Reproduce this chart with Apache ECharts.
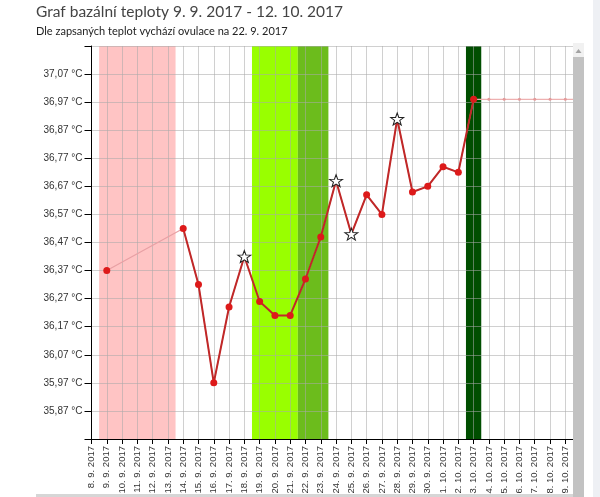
<!DOCTYPE html>
<html>
<head>
<meta charset="utf-8">
<script src="https://cdn.jsdelivr.net/npm/echarts@6/dist/echarts.min.js"></script>
<style>
html,body{margin:0;padding:0;background:#fff;overflow:hidden;}
#chart{width:600px;height:497px;}
</style>
</head>
<body>
<div id="chart"></div>
<script>
const categories = ['8. 9. 2017','9. 9. 2017','10. 9. 2017','11. 9. 2017','12. 9. 2017','13. 9. 2017','14. 9. 2017','15. 9. 2017','16. 9. 2017','17. 9. 2017','18. 9. 2017','19. 9. 2017','20. 9. 2017','21. 9. 2017','22. 9. 2017','23. 9. 2017','24. 9. 2017','25. 9. 2017','26. 9. 2017','27. 9. 2017','28. 9. 2017','29. 9. 2017','30. 9. 2017','1. 10. 2017','2. 10. 2017','3. 10. 2017','4. 10. 2017','5. 10. 2017','6. 10. 2017','7. 10. 2017','8. 10. 2017','9. 10. 2017','10. 10. 2017'];
const temps = [null,36.37,null,null,null,null,36.52,36.32,35.97,36.24,36.42,36.26,36.21,36.21,36.34,36.49,36.69,36.50,36.64,36.57,36.91,36.65,36.67,36.74,36.72,36.98,null,null,null,null,null,null,null];
const projection = [null,null,null,null,null,null,null,null,null,null,null,null,null,null,null,null,null,null,null,null,null,null,null,null,null,36.98,36.98,36.98,36.98,36.98,36.98,36.98,36.98];
const starDates = ['18. 9. 2017','24. 9. 2017','25. 9. 2017','28. 9. 2017'];
const bandFrom = ['9. 9. 2017','19. 9. 2017','22. 9. 2017','3. 10. 2017'];
const bandTo = ['13. 9. 2017','21. 9. 2017','23. 9. 2017','3. 10. 2017'];
const bandColors = ['#ffc4c4','#99ff00','#6cbc1c','#004e00'];
const yTickValues = [35.77,35.87,35.97,36.07,36.17,36.27,36.37,36.47,36.57,36.67,36.77,36.87,36.97,37.07,37.17];
const yLabelValues = [35.87,35.97,36.07,36.17,36.27,36.37,36.47,36.57,36.67,36.77,36.87,36.97,37.07];
const titleText = 'Graf bazální teploty 9. 9. 2017 - 12. 10. 2017';
const subText = 'Dle zapsaných teplot vychází ovulace na 22. 9. 2017';

const STAR = 'path://M0,-10L2.35,-3.24L9.51,-3.09L3.8,1.24L5.88,8.09L0,4L-5.88,8.09L-3.8,1.24L-9.51,-3.09L-2.35,-3.24Z';

const mainData = temps.map((v, i) => {
  if (v === null) return null;
  if (starDates.indexOf(categories[i]) >= 0) {
    return {value: v, symbol: STAR, symbolSize: [13, 12], itemStyle: {color: '#ffffff', borderColor: '#222', borderWidth: 1}};
  }
  return v;
});

const areas = bandFrom.map((f, k) => [
  {xAxis: categories.indexOf(f) - 0.5, itemStyle: {color: bandColors[k], opacity: 1}},
  {xAxis: categories.indexOf(bandTo[k]) + 0.5}
]);

const chart = echarts.init(document.getElementById('chart'), null, {renderer: 'canvas'});
const AXFONT = 'Liberation Sans, Arial, sans-serif';
chart.setOption({
  animation: false,
  backgroundColor: '#ffffff',
  title: {
    text: titleText,
    subtext: subText,
    left: 31, top: -1,
    itemGap: 6,
    textStyle: {fontSize: 15.5, fontWeight: 'normal', color: '#444', fontFamily: 'Lato, sans-serif'},
    subtextStyle: {fontSize: 11, color: '#222', fontFamily: 'Lato, sans-serif'}
  },
  grid: {left: 91.5, top: 46, right: 19.4, bottom: 58, containLabel: false, outerBoundsMode: 'none'},
  xAxis: [{
    type: 'category', data: categories, boundaryGap: false, z: 2,
    axisLine: {lineStyle: {color: '#000', width: 1}},
    axisTick: {length: 5, interval: 0, lineStyle: {color: '#000'}},
    axisLabel: {rotate: 90, interval: 0, fontSize: 9.5, color: '#333', fontFamily: AXFONT, margin: 7},
    splitLine: {show: true, interval: 0, lineStyle: {color: 'rgba(170,170,170,0.55)', width: 1}}
  }, {
    type: 'value', min: 0, max: categories.length - 1, show: false
  }],
  yAxis: {
    type: 'value', min: 35.77, max: 37.17, z: 2,
    axisLine: {show: true, lineStyle: {color: '#000', width: 1}},
    axisTick: {show: true, length: 7, customValues: yTickValues, lineStyle: {color: '#000'}},
    axisLabel: {customValues: yLabelValues, fontSize: 10, color: '#333', fontFamily: AXFONT, margin: 9,
      formatter: v => v.toFixed(2).replace('.', ',') + ' °C'},
    splitLine: {show: true, lineStyle: {color: 'rgba(170,170,170,0.55)', width: 1}}
  },
  series: [
    {
      type: 'line', xAxisIndex: 1, data: [], z: 1, silent: true,
      markArea: {silent: true, z: 1, data: areas}
    },
    {
      type: 'line', data: temps, connectNulls: true, z: 3, showSymbol: false, symbol: 'none',
      lineStyle: {color: '#e8a0a4', width: 1.2}
    },
    {
      type: 'line', data: projection, z: 3, symbol: 'circle', symbolSize: 3,
      itemStyle: {color: '#e39a9a'}, lineStyle: {color: '#eeb0b0', width: 1.2}
    },
    {
      type: 'line', data: mainData, z: 4, connectNulls: false,
      symbol: 'circle', symbolSize: 7, showSymbol: true,
      itemStyle: {color: '#dd1a1a'},
      lineStyle: {color: '#c02828', width: 2}
    }
  ],
  graphic: [
    {type: 'rect', z: 100, shape: {x: 573, y: 43, width: 11, height: 14}, style: {fill: '#f1f1f1'}},
    {type: 'polygon', z: 101, shape: {points: [[575.5, 53], [581.5, 53], [578.5, 49]]}, style: {fill: '#a3a3a3'}},
    {type: 'rect', z: 100, shape: {x: 573, y: 57, width: 11, height: 440}, style: {fill: '#c2c2c2'}},
    {type: 'rect', z: 100, shape: {x: 584, y: 40, width: 9, height: 457}, style: {fill: '#ffffff'}},
    {type: 'rect', z: 100, shape: {x: 593, y: 0, width: 7, height: 497}, style: {fill: '#eef0f4'}},
    {type: 'rect', z: 99, shape: {x: 36, y: 494, width: 537, height: 3}, style: {fill: '#d6d6d6'}}
  ]
});
</script>
</body>
</html>
